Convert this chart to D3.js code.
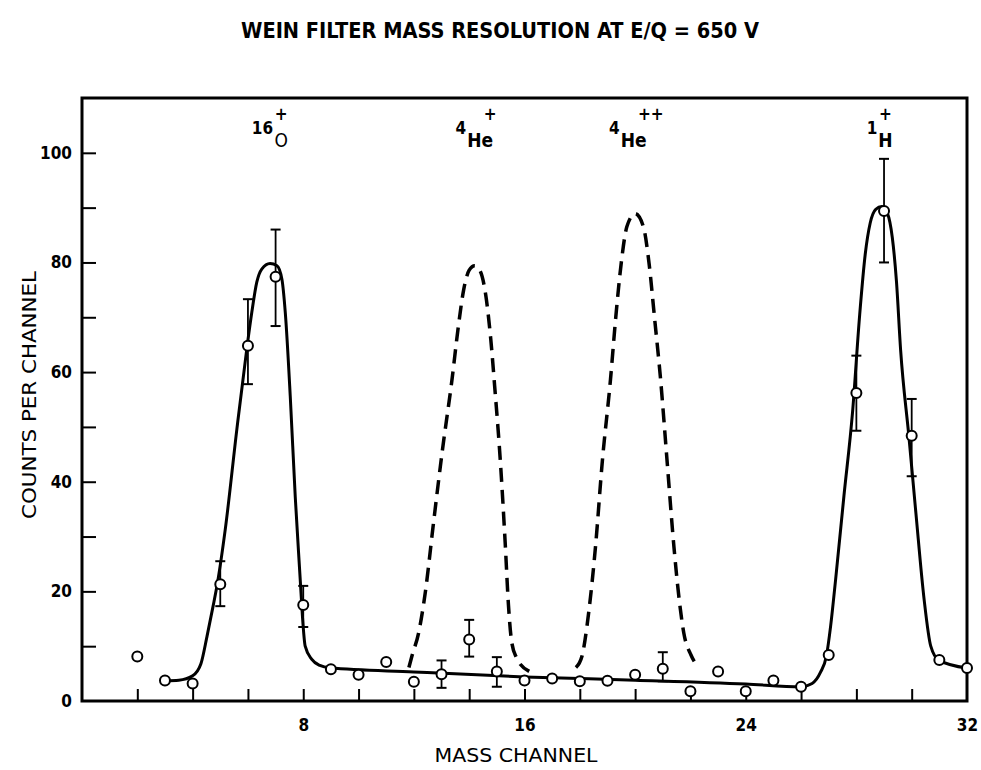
<!DOCTYPE html>
<html>
<head>
<meta charset="utf-8">
<script src="https://cdn.jsdelivr.net/npm/d3@7"></script>
<style>
  body { margin: 0; background: #fff; }
  text { font-family: "DejaVu Sans Condensed", "DejaVu Sans", sans-serif; fill: #000; }
</style>
</head>
<body>
<svg id="chart" width="981" height="770"></svg>
<script>
// Measured counts per mass channel
const channels = [2,3,4,5,6,7,8,9,10,11,12,13,14,15,16,17,18,19,20,21,22,23,24,25,26,27,28,29,30,31,32];
const counts   = [8.1,3.75,3.2,21.3,64.8,77.4,17.5,5.8,4.8,7.1,3.5,4.9,11.2,5.4,3.75,4.1,3.6,3.7,4.8,5.9,1.8,5.4,1.8,3.75,2.6,8.4,56.2,89.4,48.4,7.5,6.0];

// Statistical error bars
const errChannels = [5,6,7,8,13,14,15,21,28,29,30];
const errLow      = [17.3,57.8,68.4,13.5,2.4,8.1,2.6,3.6,49.3,80.0,41.0];
const errHigh     = [25.5,73.3,86.0,21.0,7.4,14.8,8.0,8.9,63.0,98.9,55.1];

// Hand-drawn fit through the measured O+ and H+ peaks and the background
const fitChannel = [3.0,3.5,4.0,4.3,4.52,4.74,4.89,5.18,5.6,5.97,6.14,6.32,6.5,6.8,7.05,7.23,7.35,7.53,7.71,7.89,7.97,8.07,8.31,8.6,8.97,12,16,20,24,26,26.4,26.7,26.92,27.07,27.25,27.55,27.86,28.12,28.32,28.5,28.7,28.92,29.12,29.3,29.45,29.6,29.9,30.15,30.45,30.69,30.99,32];
const fitCount   = [3.7,3.8,4.6,6.8,11.8,17.3,21.3,31.3,49.6,64.7,70.9,76.4,78.8,79.8,79.4,76.9,70.9,55.6,37.3,22.2,15.5,10.0,7.6,6.5,6.06,5.3,4.4,3.8,3.1,2.6,3.2,5.2,8.3,13.7,22.2,37.4,52.6,70.5,81.5,87.2,89.7,90.2,89.0,84.5,76.5,64.0,48.2,34.4,18.5,10.0,7.4,6.0];

// Expected 4He+ and 4He++ peak shapes
const heOneChannel = [11.82,11.93,12.17,12.41,12.71,13.02,13.38,13.6,13.8,14.0,14.2,14.4,14.6,14.78,14.92,15.13,15.3,15.42,15.53,15.7,16.17];
const heOneCount   = [6.1,8.2,12.4,19.7,32.5,45.3,58.7,68,75,78.6,79.4,78.4,74,66,57.5,43.5,29.0,17.5,11.0,8.0,5.4];
const heTwoChannel = [17.86,18.08,18.32,18.57,18.81,19.11,19.3,19.5,19.7,20.0,20.3,20.5,20.7,20.92,21.16,21.4,21.58,21.76,22.02,22.2];
const heTwoCount   = [6.1,8.2,16.1,28.3,43.5,58.7,70,80,86.5,88.9,86.5,80,70,58.7,43.5,28.3,19.1,12.4,8.4,6.7];

// Ion labels
const ionMass    = ["16","4","4","1"];
const ionSymbol  = ["O","He","He","H"];
const ionCharge  = ["+","+","++","+"];
const ionChannel = [7.2,14.4,19.95,29.05];

// Axis ticks
const xTickValues = [2,4,6,8,10,12,14,16,18,20,22,24,26,28,30];
const xTickLabels = [8,16,24,32];
const yTickValues = [10,20,30,40,50,60,70,80,90,100];
const yTickLabels = [0,20,40,60,80,100];

const titleText = "WEIN FILTER MASS RESOLUTION AT E/Q = 650 V";
const xTitle = "MASS CHANNEL";
const yTitle = "COUNTS PER CHANNEL";

const svg = d3.select("#chart");
const x = d3.scaleLinear().domain([0, 32]).range([82, 967]);
const y = d3.scaleLinear().domain([0, 110]).range([701, 98]);

// Title
svg.append("text")
  .attr("x", 500).attr("y", 38)
  .attr("text-anchor", "middle")
  .attr("font-size", 21).attr("font-weight", "bold")
  .attr("textLength", 518).attr("lengthAdjust", "spacingAndGlyphs")
  .text(titleText);

// Inward ticks
const yTicks = d3.axisLeft(y).tickValues(yTickValues).tickSize(-14).tickFormat("");
const gyt = svg.append("g").attr("transform", `translate(${x(0)},0)`).call(yTicks);
gyt.select(".domain").remove();
gyt.selectAll("line").attr("stroke", "#000").attr("stroke-width", 2);

const yLabels = d3.axisLeft(y).tickValues(yTickLabels).tickSize(0).tickPadding(10).tickFormat(d3.format("d"));
const gyl = svg.append("g").attr("transform", `translate(${x(0)},0)`).call(yLabels);
gyl.select(".domain").remove();
gyl.selectAll("text").attr("font-size", 17).attr("font-weight", "bold")
  .style("font-family", '"DejaVu Sans Condensed", sans-serif');

const xTicks = d3.axisBottom(x).tickValues(xTickValues).tickSize(-12).tickFormat("");
const gxt = svg.append("g").attr("transform", `translate(0,${y(0)})`).call(xTicks);
gxt.select(".domain").remove();
gxt.selectAll("line").attr("stroke", "#000").attr("stroke-width", 2);

const xLabels = d3.axisBottom(x).tickValues(xTickLabels).tickSize(0).tickPadding(18).tickFormat(d3.format("d"));
const gxl = svg.append("g").attr("transform", `translate(0,${y(0)})`).call(xLabels);
gxl.select(".domain").remove();
gxl.selectAll("text").attr("font-size", 17).attr("font-weight", "bold")
  .style("font-family", '"DejaVu Sans Condensed", sans-serif');

// Axis titles
svg.append("text")
  .attr("x", 516).attr("y", 762)
  .attr("text-anchor", "middle").attr("font-size", 19)
  .attr("textLength", 163).attr("lengthAdjust", "spacingAndGlyphs")
  .text(xTitle);
svg.append("text")
  .attr("transform", `translate(36,395) rotate(-90)`)
  .attr("text-anchor", "middle").attr("font-size", 19)
  .attr("textLength", 248).attr("lengthAdjust", "spacingAndGlyphs")
  .text(yTitle);

// Frame
svg.append("rect")
  .attr("x", x(0)).attr("y", y(110))
  .attr("width", x(32) - x(0)).attr("height", y(0) - y(110))
  .attr("fill", "none").attr("stroke", "#000").attr("stroke-width", 3);

// Curves
const line = d3.line().x(d => x(d[0])).y(d => y(d[1])).curve(d3.curveMonotoneX);
const zipPts = (a, b) => a.map((v, i) => [v, b[i]]);

svg.append("path").datum(zipPts(heOneChannel, heOneCount))
  .attr("d", line).attr("fill", "none").attr("stroke", "#000")
  .attr("stroke-width", 3.5).attr("stroke-dasharray", "14,8");
svg.append("path").datum(zipPts(heTwoChannel, heTwoCount))
  .attr("d", line).attr("fill", "none").attr("stroke", "#000")
  .attr("stroke-width", 3.5).attr("stroke-dasharray", "14,8");
svg.append("path").datum(zipPts(fitChannel, fitCount))
  .attr("d", line).attr("fill", "none").attr("stroke", "#000")
  .attr("stroke-width", 3).attr("stroke-linejoin", "round");

// Error bars
const eb = svg.append("g").attr("stroke", "#000");
errChannels.forEach((c, i) => {
  eb.append("line").attr("x1", x(c)).attr("x2", x(c))
    .attr("y1", y(errLow[i])).attr("y2", y(errHigh[i])).attr("stroke-width", 1.8);
  [errLow[i], errHigh[i]].forEach(v => {
    eb.append("line").attr("x1", x(c) - 5).attr("x2", x(c) + 5)
      .attr("y1", y(v)).attr("y2", y(v)).attr("stroke-width", 2);
  });
});

// Data points
svg.append("g").selectAll("circle")
  .data(zipPts(channels, counts))
  .join("circle")
  .attr("cx", d => x(d[0])).attr("cy", d => y(d[1])).attr("r", 5)
  .attr("fill", "#fff").attr("stroke", "#000").attr("stroke-width", 2);

// Ion labels: mass number at upper left, element symbol, charge above
ionSymbol.forEach((s, i) => {
  const cx = x(ionChannel[i]);
  svg.append("text").attr("x", cx - (s.length * 6 + 2)).attr("y", 134)
    .attr("text-anchor", "end").attr("font-size", 17).attr("font-weight", "bold")
    .text(ionMass[i]);
  svg.append("text").attr("x", cx).attr("y", 147).attr("text-anchor", "middle")
    .attr("font-size", 19).attr("font-weight", s === "O" ? "normal" : "bold").text(s);
  const dx = s.length > 1 ? (ionCharge[i].length > 1 ? 17 : 10) : 0;
  svg.append("text").attr("x", cx + dx).attr("y", 120).attr("text-anchor", "middle")
    .attr("font-size", 17).attr("font-weight", "bold").text(ionCharge[i]);
});
</script>
</body>
</html>
